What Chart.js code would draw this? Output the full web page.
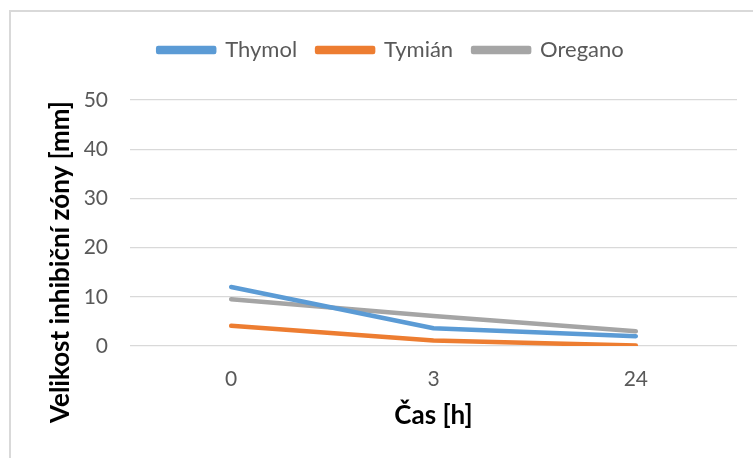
<!DOCTYPE html>
<html>
<head>
<meta charset="utf-8">
<script src="https://cdn.jsdelivr.net/npm/chart.js@4/dist/chart.umd.min.js"></script>
<style>
  html, body { margin: 0; padding: 0; background: #fff; overflow: hidden; }
  #wrap { position: relative; width: 753px; height: 458px; }
  #frame { position: absolute; left: 9px; top: 10px; width: 800px; height: 500px; border: 2px solid #d9d9d9; pointer-events: none; box-sizing: border-box; }
  canvas { position: absolute; left: 0; top: 0; }
</style>
</head>
<body>
<div id="wrap">
  <canvas id="c" width="753" height="458"></canvas>
  <div id="frame"></div>
</div>
<script>
const categories = ['0', '3', '24'];
const thymol = [12.0, 3.6, 2.0];
const tymian = [4.1, 1.1, 0.1];
const oregano = [9.5, 6.1, 3.0];
const seriesNames = ['Thymol', 'Tymián', 'Oregano'];
const yTitle = 'Velikost inhibiční zóny [mm]';
const xTitle = 'Čas [h]';

const FONT = 'Lato, "Noto Sans", sans-serif';

const legendSpace = {
  id: 'legendSpace',
  beforeLayout(chart) {
    const lg = chart.legend;
    if (lg && !lg._patched) {
      const orig = lg.fit;
      lg.fit = function () { orig.call(this); this.height += 29; };
      lg._patched = true;
    }
  }
};

// y-axis title, placed like the original (lower than the scale centre)
const yTitlePlugin = {
  id: 'yTitlePlugin',
  afterDraw(chart) {
    const ctx = chart.ctx;
    ctx.save();
    ctx.translate(61, 262);
    ctx.rotate(-Math.PI / 2);
    ctx.font = 'bold 26px ' + FONT;
    ctx.fillStyle = '#000';
    ctx.textAlign = 'center';
    ctx.textBaseline = 'middle';
    ctx.fillText(yTitle, 0, 0);
    ctx.restore();
  }
};

function ds(label, data, color) {
  return {
    label, data,
    borderColor: color, backgroundColor: color,
    borderWidth: 4.5, pointRadius: 0, pointHoverRadius: 0,
    tension: 0, borderCapStyle: 'round', borderJoinStyle: 'round', fill: false
  };
}

new Chart(document.getElementById('c'), {
  type: 'line',
  data: {
    labels: categories,
    datasets: [
      ds(seriesNames[0], thymol, '#5B9BD5'),
      ds(seriesNames[1], tymian, '#ED7D31'),
      ds(seriesNames[2], oregano, '#A5A5A5')
    ]
  },
  options: {
    responsive: false,
    animation: false,
    layout: { padding: { left: 45, right: 16, top: 19, bottom: 0 } },
    plugins: {
      legend: {
        position: 'top',
        labels: {
          boxWidth: 56, boxHeight: 4, padding: 20,
          color: '#595959',
          font: { family: FONT, size: 22 }
        }
      },
      tooltip: { enabled: false }
    },
    scales: {
      x: {
        offset: true,
        grid: { display: false, drawTicks: false },
        border: { display: false },
        ticks: { color: '#595959', padding: 21, font: { family: FONT, size: 21 } },
        title: { display: true, text: xTitle, color: '#000', font: { family: FONT, size: 26, weight: 'bold' }, padding: { top: 0, bottom: 27 } },
        afterFit(scale) { scale.height = 112; }
      },
      y: {
        min: 0, max: 50,
        ticks: { stepSize: 10, color: '#595959', padding: 22, font: { family: FONT, size: 21 } },
        grid: { color: '#d9d9d9', lineWidth: 1.3, drawTicks: false },
        border: { display: false },
        title: { display: false, text: yTitle },
        afterFit(scale) { scale.width = 85; }
      }
    }
  },
  plugins: [legendSpace, yTitlePlugin]
});
</script>
</body>
</html>
